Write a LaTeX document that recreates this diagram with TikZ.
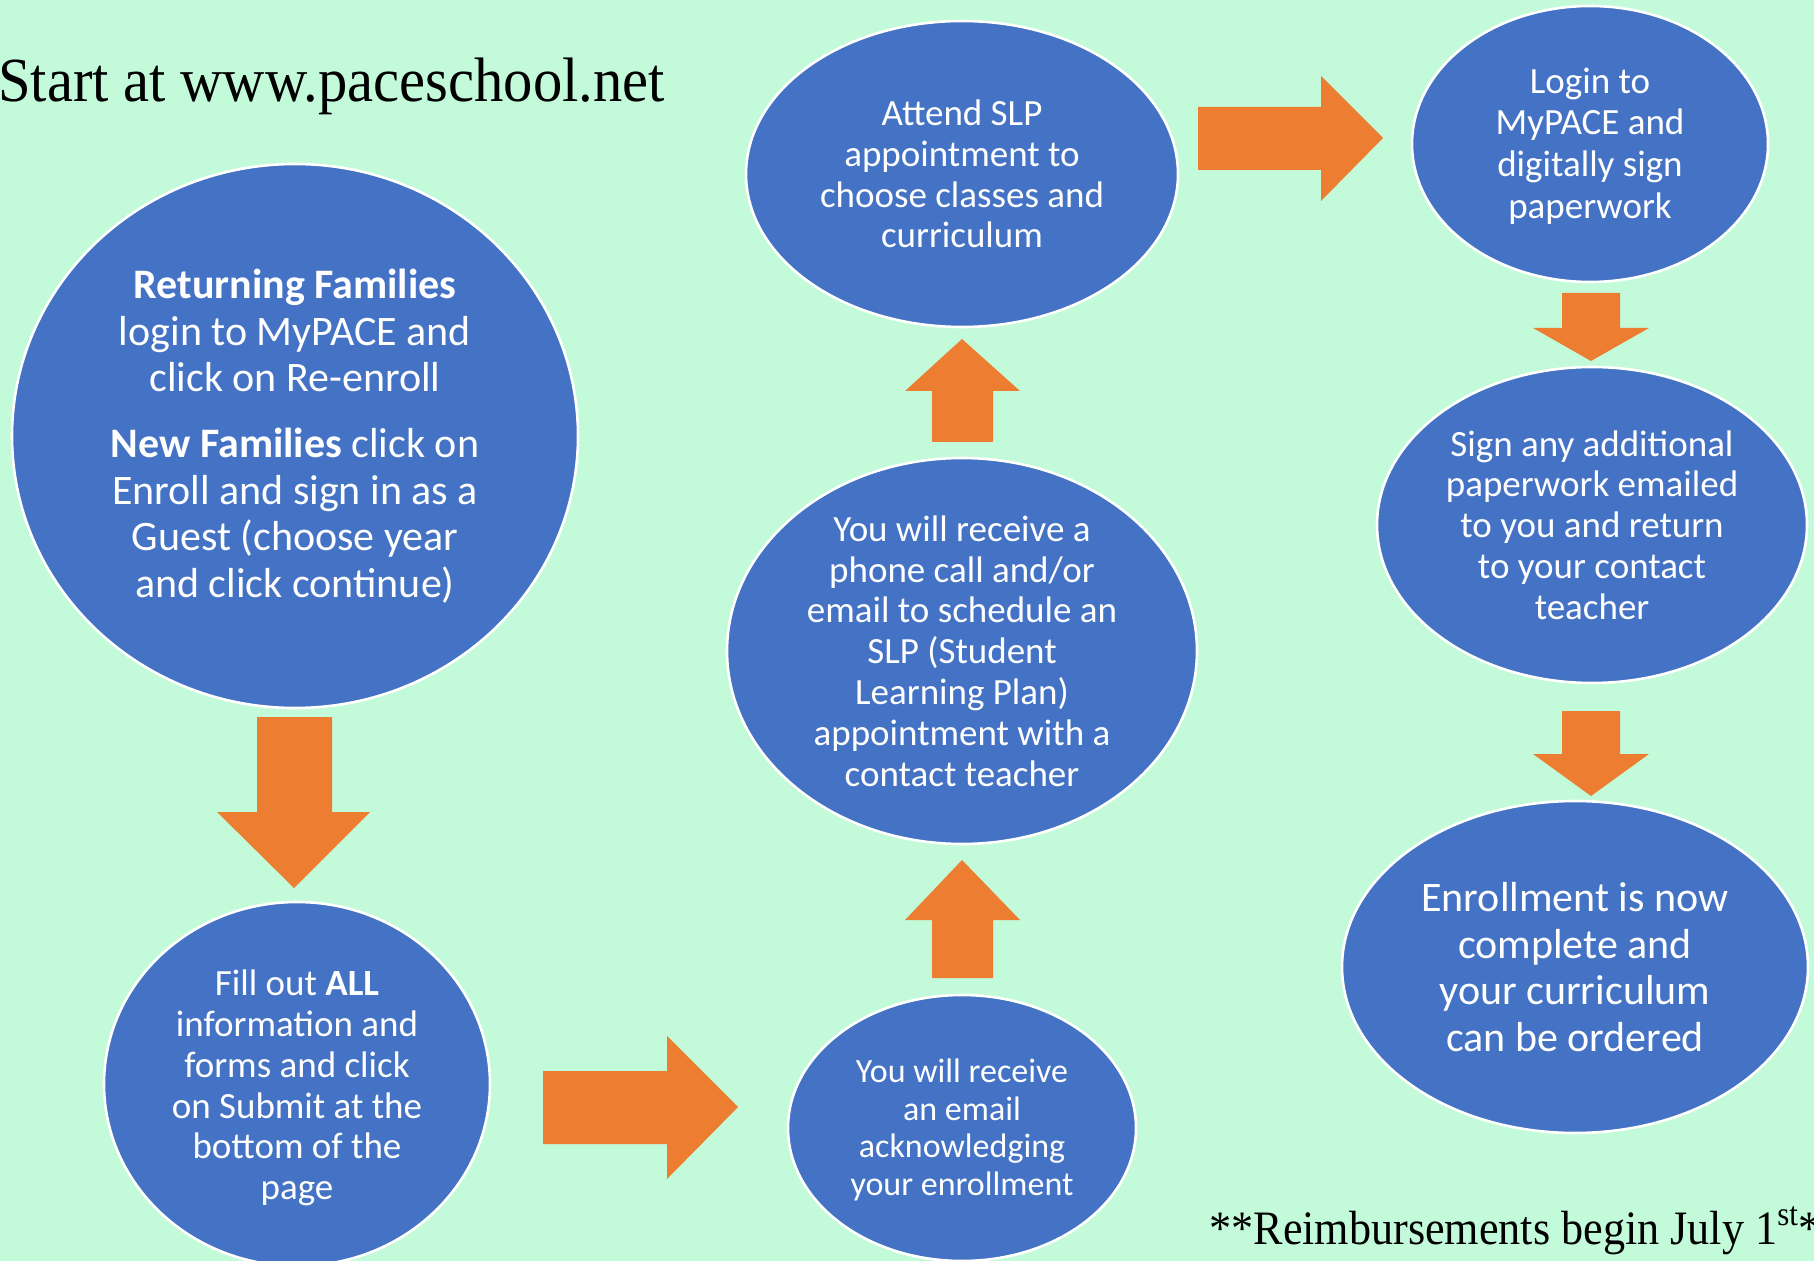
\documentclass[tikz,border=0pt]{standalone}
\usepackage{fontspec}
\usepackage{graphicx}
\setmainfont{Carlito}
\newfontfamily\titlefont{Liberation Serif}
\usetikzlibrary{shapes.geometric}
\definecolor{bg}{RGB}{195,250,218}
\definecolor{blu}{HTML}{4472C4}
\definecolor{org}{HTML}{ED7D31}
\begin{document}
\begin{tikzpicture}[x=0.5pt,y=-0.5pt,
  bubble/.style={ellipse, fill=blu, draw=white, line width=1.3pt, inner sep=0pt},
  txt/.style={text=white, align=center, inner sep=0pt},
  big/.style={font=\fontsize{21}{23.2}\selectfont},
  mid/.style={font=\fontsize{18.5}{20.4}\selectfont},
  sml/.style={font=\fontsize{17}{18.9}\selectfont},
  barrow/.style={fill=org}]
\fill[bg] (0,0) rectangle (1814,1261);
\useasboundingbox (0,0) rectangle (1814,1261);

% bubbles
\node[bubble, minimum width=283pt, minimum height=272pt] (a) at (295,436) {};
\node[bubble, minimum width=193pt, minimum height=182pt] (b) at (297,1084) {};
\node[bubble, minimum width=174pt, minimum height=133pt] (c) at (962,1128) {};
\node[bubble, minimum width=235pt, minimum height=193pt] (d) at (962,651) {};
\node[bubble, minimum width=216pt, minimum height=153pt] (e) at (962,174) {};
\node[bubble, minimum width=178pt, minimum height=138pt] (f) at (1590,144) {};
\node[bubble, minimum width=215pt, minimum height=158pt] (g) at (1592,525) {};
\node[bubble, minimum width=233pt, minimum height=166pt] (h) at (1575,967) {};

% texts
\node[txt, big] (ta) at (a) {\textbf{Returning Families}\\ login to MyPACE and\\ click on Re-enroll\\[10pt]
  \textbf{New Families} click on\\ Enroll and sign in as a\\ Guest (choose year\\ and click continue)};
\node[txt, mid] (tb) at ([yshift=-2]b) {Fill out \textbf{ALL}\\ information and\\ forms and click\\ on Submit at the\\ bottom of the\\ page};
\node[txt, sml] (tc) at ([yshift=-1]c) {You will receive\\ an email\\ acknowledging\\ your enrollment};
\node[txt, mid] (td) at (d) {You will receive a\\ phone call and/or\\ email to schedule an\\ SLP (Student\\ Learning Plan)\\ appointment with a\\ contact teacher};
\node[txt, mid] (te) at (e) {Attend SLP\\ appointment to\\ choose classes and\\ curriculum};
\node[txt, mid, font=\fontsize{18.5}{20.9}\selectfont] (tf) at ([yshift=-1]f) {Login to\\ MyPACE and\\ digitally sign\\ paperwork};
\node[txt, mid] (tg) at (g) {Sign any additional\\ paperwork emailed\\ to you and return\\ to your contact\\ teacher};
\node[txt, big] (th) at (h) {Enrollment is now\\ complete and\\ your curriculum\\ can be ordered};

% block arrows
\fill[barrow] (257,717) -- (332,717) -- (332,812) -- (370,812) -- (294,888) -- (217,812) -- (257,812) -- cycle;
\fill[barrow] (543,1071) -- (667,1071) -- (667,1036) -- (738,1107) -- (667,1179) -- (667,1144) -- (543,1144) -- cycle;
\fill[barrow] (932,978) -- (993,978) -- (993,920) -- (1020,920) -- (962,860) -- (905,920) -- (932,920) -- cycle;
\fill[barrow] (932,442) -- (993,442) -- (993,391) -- (1020,391) -- (962,339) -- (905,391) -- (932,391) -- cycle;
\fill[barrow] (1198,107) -- (1321,107) -- (1321,76) -- (1383,138) -- (1321,201) -- (1321,170) -- (1198,170) -- cycle;
\fill[barrow] (1562,293) -- (1620,293) -- (1620,328) -- (1649,328) -- (1591,361) -- (1533,328) -- (1562,328) -- cycle;
\fill[barrow] (1562,711) -- (1620,711) -- (1620,754) -- (1649,754) -- (1591,796) -- (1533,754) -- (1562,754) -- cycle;

% title and note
\node[anchor=base west, inner sep=0pt] (title) at (-2,102)
  {\titlefont\scalebox{0.933}[1]{\fontsize{31.4}{31.4}\selectfont Start at www.paceschool.net}};
\node[anchor=base west, inner sep=0pt] (note) at (1209,1244)
  {\titlefont\scalebox{0.92}[1]{\fontsize{24}{24}\selectfont **Reimbursements begin July 1\textsuperscript{st}**}};
\end{tikzpicture}
\end{document}
